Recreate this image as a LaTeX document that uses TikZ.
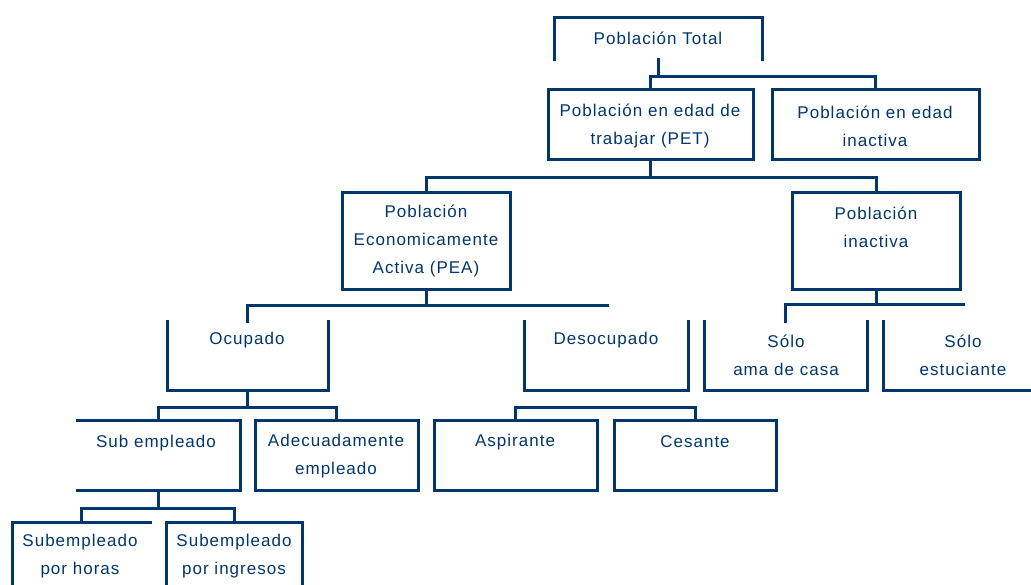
\documentclass[tikz,border=0pt]{standalone}
\usepackage{fontspec}
\setmainfont[LetterSpace=6]{Liberation Sans}
\definecolor{navy}{RGB}{0,54,107}
\begin{document}
\begin{tikzpicture}[x=1pt,y=-1pt,
  line width=3pt, line cap=rect,
  frame/.style={draw=none, minimum width=#1, inner sep=0pt, outer sep=0pt},
  txt/.style={text=navy, align=center, inner sep=0pt, font=\fontsize{17}{28}\selectfont},
  conn/.style={draw=navy, line width=3pt}
]
\useasboundingbox (0,0) rectangle (1031,585);
\tikzset{box/.style args={#1/#2}{minimum width=#1, minimum height=#2, inner sep=0pt, outer sep=0pt}}
% boxes (centre, width, height)
\node[box=208/42] (T)   at (658,39)  {};
\node[box=205/70] (PET) at (650.5,125) {};
\node[box=207/70] (IN)  at (875.5,125) {};
\node[box=168/97] (PEA) at (426,241.5) {};
\node[box=168/97] (PI)  at (876,241.5) {};
\node[box=161/68] (OC)  at (247.5,356) {};
\node[box=164/68] (DE)  at (606,356) {};
\node[box=163/68] (SA)  at (785.5,356) {};
\node[box=160/68] (SE)  at (963,356) {};
\node[box=163/70] (SU)  at (158.5,455) {};
\node[box=163/70] (AD)  at (336.5,455) {};
\node[box=163/70] (AS)  at (515.5,455) {};
\node[box=162/70] (CE)  at (695,455) {};
\node[box=138/80] (PH)  at (81,562) {};
\node[box=136/80] (PG)  at (234,562) {};
% outlines
\draw[navy] (T.south west) -- (T.north west) -- (T.north east) -- (T.south east);
\draw[navy] (PET.north west) rectangle (PET.south east);
\draw[navy] (IN.north west) rectangle (IN.south east);
\draw[navy] (PEA.north west) rectangle (PEA.south east);
\draw[navy] (PI.north west) rectangle (PI.south east);
\draw[navy] (OC.north west) -- (OC.south west) -- (OC.south east) -- (OC.north east);
\draw[navy] (DE.north west) -- (DE.south west) -- (DE.south east) -- (DE.north east);
\draw[navy] (SA.north west) -- (SA.south west) -- (SA.south east) -- (SA.north east);
\draw[navy] (SE.north west) -- (SE.south west) -- (SE.south east);
\draw[navy] (SU.north west) -- (SU.north east) -- (SU.south east) -- (SU.south west);
\draw[navy] (AD.north west) rectangle (AD.south east);
\draw[navy] (AS.north west) rectangle (AS.south east);
\draw[navy] (CE.north west) rectangle (CE.south east);
\draw[navy] (PH.south west) -- (PH.north west) -- (PH.north east);
\draw[navy] (PG.south west) -- (PG.north west) -- (PG.north east) -- (PG.south east);
% texts
\node[txt] (tT)   at (658,38)  {Población Total};
\node[txt] (tPET) at (650,126) {Población en edad de\\trabajar (PET)};
\node[txt] (tIN)  at (875,126) {Población en edad\\inactiva};
\node[txt] (tPEA) at (426,241) {Población\\Economicamente\\Activa (PEA)};
\node[txt] (tPI)  at (876,227) {Población\\inactiva};
\node[txt] (tOC)  at (247,340) {Ocupado};
\node[txt] (tDE)  at (606,340) {Desocupado};
\node[txt] (tSA)  at (786,355) {Sólo\\ama de casa};
\node[txt] (tSE)  at (963,355) {Sólo\\estuciante};
\node[txt] (tSU)  at (156,443) {Sub empleado};
\node[txt] (tAD)  at (336,456) {Adecuadamente\\empleado};
\node[txt] (tAS)  at (515,442) {Aspirante};
\node[txt] (tCE)  at (695,442) {Cesante};
\node[txt] (tPH)  at (80,556)  {Subempleado\\por horas};
\node[txt] (tPG)  at (234,556) {Subempleado\\por ingresos};
% free ends
\coordinate (e1) at (607,306);
\coordinate (e2) at (963,305);
% connectors
\draw[conn] (T.south) -- (T.south |- 0,77);
\draw[conn] (PET.north) -- (PET.north |- 0,77) -| (IN.north);
\draw[conn] (PET.south) -- (PET.south |- 0,178);
\draw[conn] (PEA.north) -- (PEA.north |- 0,178) -| (PI.north);
\draw[conn] (PEA.south) -- (PEA.south |- 0,306);
\draw[conn] (OC.north) |- (e1);
\draw[conn] (PI.south) -- (PI.south |- 0,305);
\draw[conn] (SA.north) |- (e2);
\draw[conn] (OC.south) -- (OC.south |- 0,407);
\draw[conn] (SU.north) -- (SU.north |- 0,407) -| (AD.north);
\draw[conn] (AS.north) -- (AS.north |- 0,407) -| (CE.north);
\draw[conn] (SU.south) -- (SU.south |- 0,508);
\draw[conn] (PH.north) -- (PH.north |- 0,508) -| (PG.north);
\end{tikzpicture}
\end{document}
